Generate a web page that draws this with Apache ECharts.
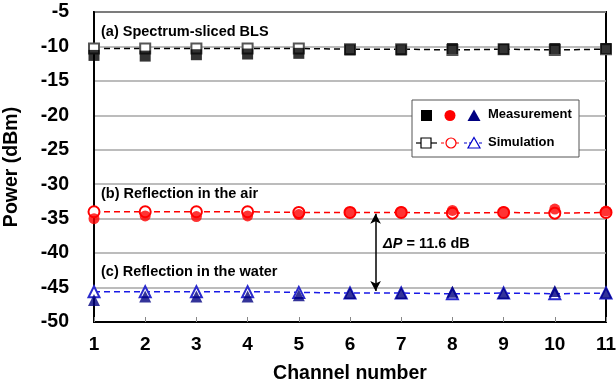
<!DOCTYPE html>
<html>
<head>
<meta charset="utf-8">
<script src="https://cdn.jsdelivr.net/npm/echarts@6/dist/echarts.min.js"></script>
<style>
  html, body { margin: 0; padding: 0; background: #fff; }
  #chart { width: 616px; height: 389px; }
</style>
</head>
<body>
<div id="chart"></div>
<script>
// channels
var channels = [1, 2, 3, 4, 5, 6, 7, 8, 9, 10, 11];

// (a) spectrum-sliced BLS
var blsMeas = [-11.3, -11.4, -11.2, -11.1, -11.0, -10.5, -10.5, -10.3, -10.4, -10.3, -10.3];
var blsSim  = [-10.3, -10.3, -10.3, -10.3, -10.3, -10.4, -10.4, -10.5, -10.4, -10.5, -10.4];

// (b) reflection in the air
var airMeas = [-35.0, -34.6, -34.7, -34.6, -34.4, -34.1, -34.0, -33.8, -34.0, -33.6, -33.9];
var airSim  = [-34.0, -34.0, -34.0, -34.0, -34.1, -34.1, -34.1, -34.2, -34.1, -34.2, -34.1];

// (c) reflection in the water
var waterMeas = [-46.8, -46.3, -46.3, -46.3, -46.1, -45.8, -45.8, -45.6, -45.8, -45.5, -45.7];
var waterSim  = [-45.6, -45.6, -45.6, -45.6, -45.7, -45.8, -45.8, -45.9, -45.8, -45.9, -45.8];

var font = 'Liberation Sans, Arial, sans-serif';

function pairs(vals) {
  return channels.map(function (c, i) { return [c, vals[i]]; });
}

function simSeries(name, vals, symbol, lineColor, markColor, size) {
  return {
    name: name, type: 'line', data: pairs(vals),
    symbol: symbol, symbolSize: size, z: 3,
    lineStyle: { color: lineColor, width: 1.5, type: [6, 4] },
    itemStyle: { color: markColor, borderColor: markColor, borderWidth: 1.2 }
  };
}

function measSeries(name, vals, symbol, color, size) {
  return {
    name: name, type: 'scatter', data: pairs(vals),
    symbol: symbol, symbolSize: size, z: 5,
    itemStyle: { color: color }
  };
}

// legend pieces drawn on top of the grid lines
function lg(el) { el.z = 100; return el; }

var myChart = echarts.init(document.getElementById('chart'));

var airSimS = simSeries('air sim', airSim, 'emptyCircle', '#ff0000', '#ff0000', 11);
airSimS.markLine = {
  silent: true,
  symbol: ['arrow', 'arrow'],
  symbolSize: [8, 10],
  label: { show: false },
  lineStyle: { color: '#000', width: 1.5, type: 'solid' },
  data: [[{ coord: [6.5, -34.3] }, { coord: [6.5, -45.5] }]]
};

var option = {
  animation: false,
  backgroundColor: '#fff',
  grid: {
    left: 94, right: 10, top: 12, bottom: 67,
    outerBoundsMode: 'none', containLabel: false,
    show: true, borderColor: '#000', borderWidth: 2
  },
  xAxis: {
    type: 'value', min: 1, max: 11, interval: 1,
    name: 'Channel number', nameLocation: 'middle', nameGap: 42,
    nameTextStyle: { fontFamily: font, fontWeight: 'bold', fontSize: 19.5, color: '#000' },
    axisLine: { lineStyle: { color: '#000', width: 2 } },
    axisTick: { inside: true, length: 5, lineStyle: { color: '#888' } },
    axisLabel: { fontFamily: font, fontWeight: 'bold', fontSize: 19, color: '#000', margin: 13 },
    splitLine: { show: false }
  },
  yAxis: {
    type: 'value', min: -50, max: -5, interval: 5,
    name: 'Power (dBm)', nameLocation: 'middle', nameGap: 72,
    nameTextStyle: { fontFamily: font, fontWeight: 'bold', fontSize: 19.5, color: '#000' },
    axisLine: { show: true, lineStyle: { color: '#000', width: 2 } },
    axisTick: { show: false },
    axisLabel: { fontFamily: font, fontWeight: 'bold', fontSize: 19.5, color: '#000', margin: 25 },
    splitLine: { lineStyle: { color: '#a6a6a6', width: 1.5 } }
  },
  graphic: [
    // panel labels
    { type: 'text', left: 101, top: 24, z: 10,
      style: { text: '(a) Spectrum-sliced BLS', font: 'bold 14.5px ' + font, fill: '#000' } },
    { type: 'text', left: 101, top: 186, z: 10,
      style: { text: '(b) Reflection in the air', font: 'bold 14.5px ' + font, fill: '#000' } },
    { type: 'text', left: 101, top: 264, z: 10,
      style: { text: '(c) Reflection in the water', font: 'bold 14.5px ' + font, fill: '#000' } },
    { type: 'text', left: 383, top: 236, z: 10,
      style: {
        text: '{i|ΔP} = 11.6 dB', font: 'bold 14.5px ' + font, fill: '#000',
        rich: { i: { font: 'italic bold 14.5px ' + font, fill: '#000' } }
      } },
    // legend box
    lg({ type: 'rect', shape: { x: 412, y: 100, width: 167, height: 57 },
      style: { fill: '#fff', stroke: '#555', lineWidth: 1 } }),
    lg({ type: 'rect', shape: { x: 421, y: 110, width: 11, height: 11 }, style: { fill: '#000' } }),
    lg({ type: 'circle', shape: { cx: 450, cy: 115.5, r: 5.5 }, style: { fill: '#ff0000' } }),
    lg({ type: 'polygon', shape: { points: [[474, 109.5], [480.5, 121], [467.5, 121]] }, style: { fill: '#000080' } }),
    lg({ type: 'text', x: 488, y: 108, style: { text: 'Measurement', font: 'bold 13px ' + font, fill: '#000' } }),
    lg({ type: 'line', shape: { x1: 416, y1: 143, x2: 437, y2: 143 }, style: { stroke: '#000', lineWidth: 1.2 } }),
    lg({ type: 'rect', shape: { x: 421, y: 138, width: 10, height: 10 }, style: { fill: '#fff', stroke: '#000', lineWidth: 1.2 } }),
    lg({ type: 'line', shape: { x1: 441, y1: 143, x2: 461, y2: 143 }, style: { stroke: '#ff0000', lineWidth: 1.2, lineDash: [3, 2] } }),
    lg({ type: 'circle', shape: { cx: 451, cy: 143, r: 5 }, style: { fill: '#fff', stroke: '#ff0000', lineWidth: 1.2 } }),
    lg({ type: 'line', shape: { x1: 464, y1: 143, x2: 484, y2: 143 }, style: { stroke: '#0000cc', lineWidth: 1.2, lineDash: [3, 2] } }),
    lg({ type: 'polygon', shape: { points: [[474, 137.5], [480, 148], [468, 148]] }, style: { fill: '#fff', stroke: '#0000cc', lineWidth: 1.2 } }),
    lg({ type: 'text', x: 488, y: 136, style: { text: 'Simulation', font: 'bold 13px ' + font, fill: '#000' } })
  ],
  series: [
    simSeries('bls sim', blsSim, 'emptyRect', '#000', '#555', 10),
    airSimS,
    simSeries('water sim', waterSim, 'emptyTriangle', '#1a1ae6', '#2a2acc', 11),
    measSeries('bls meas', blsMeas, 'rect', '#000', 11),
    measSeries('air meas', airMeas, 'circle', '#ff0000', 11),
    measSeries('water meas', waterMeas, 'triangle', '#000080', 12)
  ]
};

myChart.setOption(option);
</script>
</body>
</html>
